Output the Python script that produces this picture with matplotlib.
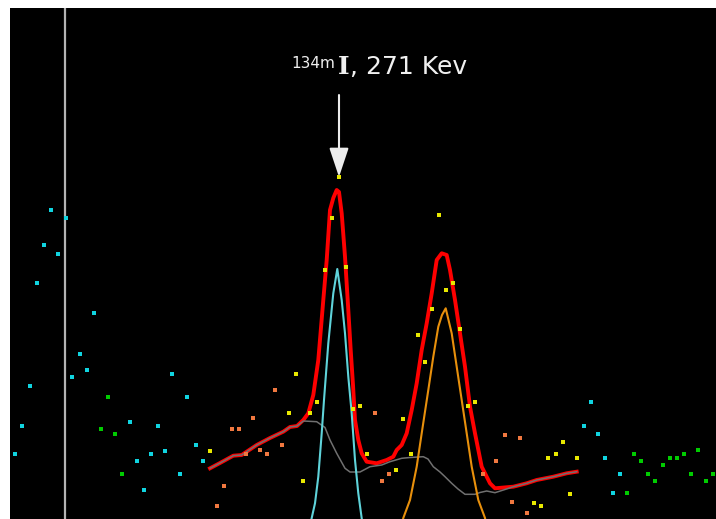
import matplotlib.pyplot as plt

# spectrum points, grouped by the colour the fit program gives them
cyan_ch = [15, 22.3, 29.7, 36.7, 43.7, 51, 58.3, 65.7, 72.3, 79.7, 86.7, 94, 129.7, 136.7, 144, 151,
           158.3, 165.3, 172.3, 179.7, 187, 195.7, 203, 583.7, 591, 598.3, 605.3, 612.7, 619.7]
cyan_cts = [145.7, 174.3, 213.7, 317.3, 354.7, 390.3, 345.7, 381.7, 222.7, 246, 229.7, 286.7, 178, 138.7, 110.3, 146,
            174.3, 149.3, 226.3, 126.3, 203, 154.7, 138.7, 174.3, 197.7, 165.7, 142.3, 106.7, 126.3]

green_ch = [101, 108, 115.3, 122.3, 626.7, 634, 641, 648.3, 655.3, 662.7, 669.7, 677, 684, 691.3, 698.3, 705.7, 712.7]
green_cts = [171, 203, 165.7, 126.3, 106.7, 146, 139, 126.3, 119, 135, 142.3, 142.3, 146, 126.3, 149.7, 119, 126.3]

yellow_ch = [210.3, 288.7, 296, 303, 310.3, 317.3, 324.7, 331.7, 339, 346, 353, 360.3, 367.3, 396.3, 403.3, 410.7,
             417.7, 424.7, 431.7, 439.3, 446.3, 453.3, 460.3, 468, 475, 534, 541.3, 548.3, 555.7, 562.7, 569.7, 577]
yellow_cts = [149.5, 187, 226.3, 119, 187, 197.7, 329.7, 381.7, 422.7, 333.3, 190.7, 194, 146, 129.7, 181.3, 146,
              265.3, 238.3, 290.7, 385, 310, 317.3, 270.7, 194, 197.7, 97.3, 94, 142.3, 145.7, 158.3, 106.3, 142.3]

orange_ch = [217.3, 224.3, 231.7, 238.7, 246, 253, 260.3, 267.3, 274.7, 281.7, 374.7, 381.7, 389,
             482.7, 496.3, 505.3, 512.3, 519.7, 526.7]
orange_cts = [94, 114, 171, 171, 146, 181.7, 149.7, 146, 210, 154.7, 187, 119, 126.3,
              126, 138.7, 165.3, 97.7, 161.7, 86.7]

# total fit
fit_ch = [210, 220, 233.3, 241.7, 256.7, 270, 283.3, 290, 297, 303.3, 308.3, 313.3, 318.3, 323.3, 326.7, 330,
          333.3, 336.7, 339, 341.7, 345, 348.3, 350.7, 353, 355, 358.3, 361.7, 366.7, 376.7, 386.7, 393.3, 396.7,
          401.7, 406.7, 411.7, 416.7, 421.7, 426.7, 431.7, 436.7, 441.7, 446.7, 450, 455, 460, 465, 470, 475,
          481.7, 490, 495, 513.3, 526.7, 536.7, 553.3, 566.7, 576.7]
fit_cts = [131.7, 137, 144.3, 145, 155, 162, 168.3, 173, 174, 180, 186.7, 205, 240, 300, 340, 390,
           402, 410, 408, 386.7, 343.3, 290, 250, 215, 180, 160, 146.7, 138.3, 136.7, 140, 143.3, 150,
           155, 166.7, 190, 216.7, 250, 276.7, 306.7, 340, 346.7, 345, 330, 300, 266.7, 233.3, 193.3, 166.7,
           133.3, 116.7, 111.7, 113.3, 116.7, 120, 123.3, 126.7, 128.3]

# background under the peaks
bg_ch = [210, 220, 233.3, 241.7, 256.7, 270, 283.3, 290, 297, 303.3, 316.7, 325, 330, 336.7, 345, 350, 360,
         370, 381.7, 390, 401.7, 410, 423.3, 428, 433.3, 440, 445, 451.7, 458, 465, 475, 480, 486.7, 495,
         505, 513.3, 526.7, 536.7, 553.3, 566.7, 576.7]
bg_cts = [131.7, 137, 144.3, 145, 155, 162, 168.3, 173, 174, 179, 178.3, 172.5, 160, 146.7, 131.7, 128, 128,
          133.3, 135, 138.3, 141.7, 142.5, 143.3, 141, 133.3, 128, 123.3, 116.7, 111, 105.7, 105.7, 107.5, 109, 107.3,
          110.5, 113.3, 116.7, 120, 123.3, 126.7, 128.3]

# single peak components
peak1_ch = [308, 311.7, 315, 318.3, 321.7, 324, 328.3, 333.3, 337.3, 341.7, 345, 348.3, 351.7, 355, 358.3, 361.7, 365]
peak1_cts = [65, 82, 96.7, 123.3, 166.7, 200, 256.7, 306.7, 331, 300, 266.7, 223.3, 186.7, 140, 106.7, 81.7, 65]

peak2_ch = [400, 403.3, 410, 416.7, 421.7, 428.3, 433.3, 438.3, 442, 445.7, 451.7, 456.7, 461.7, 466.7,
            471.7, 478.3, 485, 488]
peak2_cts = [65, 82, 100, 133.3, 166.7, 210, 243.3, 273.3, 285, 291.7, 266.7, 233.3, 200, 166.7,
             133.3, 100, 82, 65]

marker_ch = 64.5
peak_ch = 339
peak_top = 423

fig = plt.figure(figsize=(7.16, 5.19), dpi=100, facecolor='white')
ax = fig.add_axes([10 / 716, 0, 706 / 716, 511 / 519])
ax.set_facecolor('black')
ax.set_xlim(10, 716)
ax.set_ylim(81, 592)
ax.set_xticks([])
ax.set_yticks([])
for s in ax.spines.values():
    s.set_visible(False)

ax.axvline(marker_ch, color='#b4b4b4', lw=1.6, zorder=1)

ax.plot(fit_ch, fit_cts, color='#ff0000', lw=2.8, zorder=2)
ax.plot(bg_ch, bg_cts, color='#707070', lw=1.1, zorder=3)
ax.plot(peak1_ch, peak1_cts, color='#5fd3da', lw=1.5, zorder=4)
ax.plot(peak2_ch, peak2_cts, color='#e8900c', lw=1.5, zorder=4)

ms = 3
ax.plot(cyan_ch, cyan_cts, 's', color='#10d4e0', ms=ms, mew=0, zorder=5)
ax.plot(green_ch, green_cts, 's', color='#00cc00', ms=ms, mew=0, zorder=5)
ax.plot(yellow_ch, yellow_cts, 's', color='#e8e800', ms=ms, mew=0, zorder=5)
ax.plot(orange_ch, orange_cts, 's', color='#f07840', ms=ms, mew=0, zorder=5)

ax.annotate('', xy=(peak_ch, peak_top), xytext=(peak_ch, 505),
            arrowprops=dict(arrowstyle='-|>,head_length=0.9,head_width=0.3', mutation_scale=20,
                            color='#ececec', lw=1.5, shrinkA=0, shrinkB=0), zorder=6)

# peak label: mass number, element symbol, energy
txt_col = '#f0f0f0'
elem = ax.text(344, 526, 'I', color=txt_col, fontsize=18, family='DejaVu Serif', fontweight='bold',
               ha='center', va='baseline', zorder=6)
ax.annotate('134m', xy=(0, 1), xycoords=elem, xytext=(-2, -1), textcoords='offset points',
            color=txt_col, fontsize=11, ha='right', va='top', zorder=6)
ax.annotate(', 271 Kev', xy=(1, 0), xycoords=elem, xytext=(0, 0), textcoords='offset points',
            color=txt_col, fontsize=18, ha='left', va='bottom', zorder=6)

plt.savefig('out.png', dpi=100, facecolor='white')
